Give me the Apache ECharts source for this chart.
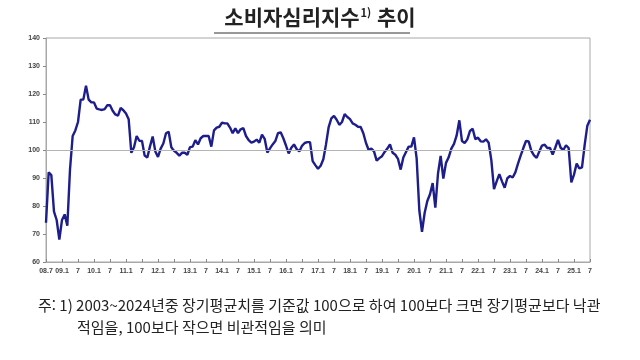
<!DOCTYPE html>
<html lang="ko">
<head>
<meta charset="UTF-8">
<title>소비자심리지수 추이</title>
<script src="https://cdn.jsdelivr.net/npm/echarts@6/dist/echarts.min.js"></script>
<style>
    html, body { margin: 0; padding: 0; background: #fff; }
    #main { width: 640px; height: 360px; }
</style>
</head>
<body>
<div id="main"></div>
<script type="text/javascript">
// 소비자심리지수(CCSI) 월별, 2008.7 ~ 2025.7
var startYear = 2008, startMonth = 7;
var ccsi = [
    74, 92, 91, 78, 75, 68,                                                     // 2008.7~12
    75, 77, 73, 93, 105, 107, 110, 118, 118, 123, 118, 117,                     // 2009
    117, 114.8, 114.5, 114.3, 114.6, 116, 116, 114, 112.7, 112.3, 115, 114.2,   // 2010
    113, 111, 99, 101, 105, 103.3, 103.2, 98, 97.3, 101.3, 104.8, 99.5,         // 2011
    97.5, 100.5, 102.3, 106, 106.5, 101, 99.7, 99, 98, 99, 99, 98.3,            // 2012
    101, 101.2, 103.5, 102, 104.2, 105, 105, 105, 101.2, 107, 108, 108.3,       // 2013
    109.8, 109.5, 109.5, 108, 106, 107.7, 106, 107.4, 107.8, 105, 103.5, 102.6, // 2014
    103, 103.7, 102.6, 105.5, 104, 99.1, 100.6, 102, 103.2, 106, 106.3, 104.2,  // 2015
    101.6, 98.8, 100.8, 102, 100.3, 99.5, 101.5, 102.5, 102.8, 102.8, 96, 94.6, // 2016
    93.3, 94.4, 96.7, 102, 108.2, 111.3, 112.2, 110.8, 109, 110, 112.8, 111.8,  // 2017
    111, 109.5, 109, 108.3, 108.2, 106, 102.5, 100, 100.5, 99.5, 96.2, 97.1,    // 2018
    97.8, 99.3, 100.5, 102, 99, 98.3, 96.8, 93, 97.3, 99.3, 101.2, 101.2,       // 2019
    104.5, 96.9, 78.4, 70.8, 77.6, 81.8, 84.2, 88.2, 79.4, 91.6, 97.9, 89.8,    // 2020
    95.4, 97.4, 100.5, 102.2, 105.2, 110.6, 103.2, 102.5, 103.8, 106.8, 107.6, 103.9, // 2021
    104.4, 103.1, 103.0, 103.8, 102.6, 96.4, 86.0, 88.8, 91.4, 88.8, 86.5, 89.9, // 2022
    90.7, 90.2, 92.0, 95.1, 98.0, 100.7, 103.2, 103.1, 99.7, 98.1, 97.2, 99.5,  // 2023
    101.6, 101.9, 100.7, 100.7, 98.4, 100.9, 103.6, 100.8, 100.0, 101.7, 100.7, 88.4, // 2024
    91.2, 95.2, 93.4, 93.8, 101.8, 108.7, 110.8                                 // 2025.1~7
];
// x축 눈금 라벨 (6개월 간격)
var tickLabels = ['08.7', '09.1', '7', '10.1', '7', '11.1', '7', '12.1', '7', '13.1', '7',
    '14.1', '7', '15.1', '7', '16.1', '7', '17.1', '7', '18.1', '7', '19.1', '7',
    '20.1', '7', '21.1', '7', '22.1', '7', '23.1', '7', '24.1', '7', '25.1', '7'];
var yMin = 60, yMax = 140, yStep = 10, baseLine = 100;

var titleText = '소비자심리지수';
var titleNote = '1)';
var titleTail = ' 추이';
var noteLine1 = '주: 1) 2003~2024년중 장기평균치를 기준값 100으로 하여 100보다 크면 장기평균보다 낙관';
var noteLine2 = '적임을, 100보다 작으면 비관적임을 의미';

// 월 카테고리
var months = [];
for (var i = 0; i < ccsi.length; i++) {
    var m = startMonth - 1 + i;
    months.push((startYear + Math.floor(m / 12)) + '.' + (m % 12 + 1));
}

var myChart = echarts.init(document.getElementById('main'));
var KR = '"Noto Sans CJK KR", "Noto Sans", sans-serif';
var AX = '"Liberation Sans", Arial, sans-serif';

myChart.setOption({
    animation: false,
    title: [
        {
            text: '{a|' + titleText + '}{b|' + titleNote + '}{a|' + titleTail + '}',
            left: 'center',
            top: 2,
            textStyle: {
                rich: {
                    a: { fontFamily: KR, fontSize: 21, fontWeight: 'bold', color: '#222' },
                    b: { fontFamily: KR, fontSize: 11, color: '#222', padding: [0, 1, 10, 1] }
                }
            }
        },
        {
            text: noteLine1,
            left: 33,
            top: 293,
            textStyle: { fontFamily: KR, fontSize: 15, fontWeight: 'normal', color: '#222' }
        },
        {
            text: noteLine2,
            left: 72,
            top: 315,
            textStyle: { fontFamily: KR, fontSize: 15, fontWeight: 'normal', color: '#222' }
        }
    ],
    graphic: [
        {   // 제목 밑줄
            type: 'line',
            shape: { x1: 214, y1: 33, x2: 410, y2: 33 },
            style: { stroke: '#333', lineWidth: 1 }
        }
    ],
    grid: {
        left: 46, right: 50, top: 38, bottom: 98,
        show: true, borderColor: '#a8a8a8', borderWidth: 1
    },
    xAxis: {
        type: 'category',
        data: months,
        boundaryGap: false,
        axisLine: { lineStyle: { color: '#a8a8a8' } },
        axisTick: { show: true, inside: true, length: 3, interval: 5, lineStyle: { color: '#888' } },
        axisLabel: {
            interval: 5, margin: 6,
            fontFamily: AX, fontSize: 7, fontWeight: 'bold', color: '#444',
            formatter: function (v, idx) { return tickLabels[idx / 6] || ''; }
        },
        splitLine: { show: false }
    },
    yAxis: {
        type: 'value',
        min: yMin, max: yMax, interval: yStep,
        axisLine: { show: true, lineStyle: { color: '#a8a8a8' } },
        axisTick: { show: true, length: 3, lineStyle: { color: '#888' } },
        axisLabel: { margin: 6, fontFamily: AX, fontSize: 7, fontWeight: 'bold', color: '#444' },
        splitLine: { show: false }
    },
    series: [
        {
            name: '소비자심리지수',
            type: 'line',
            data: ccsi,
            showSymbol: false,
            smooth: false,
            lineStyle: { color: '#1d1d8c', width: 2.4 },
            itemStyle: { color: '#1d1d8c' },
            z: 3,
            markLine: {
                silent: true,
                symbol: 'none',
                label: { show: false },
                lineStyle: { color: '#b4b4b4', type: 'solid', width: 1 },
                data: [{ yAxis: baseLine }]
            }
        }
    ]
});
</script>
</body>
</html>
